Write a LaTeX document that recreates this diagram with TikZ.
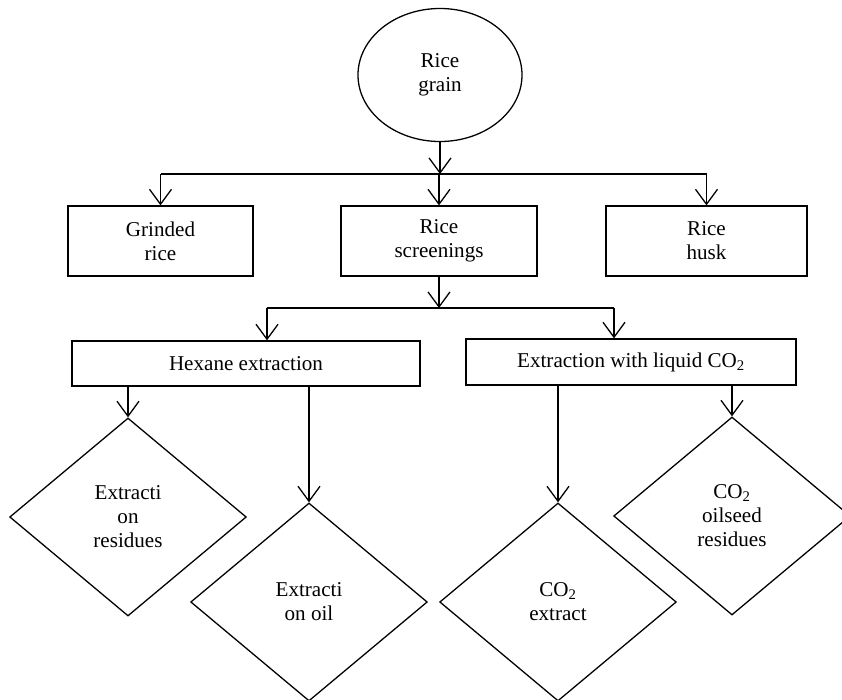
\documentclass[tikz,border=0pt]{standalone}
\usepackage{fontspec}
\setmainfont{Liberation Serif}
\usetikzlibrary{shapes.geometric}
\usetikzlibrary{arrows.meta}

\begin{document}
\begin{tikzpicture}[x=.03cm,y=-.03cm,line width=1.1pt,
  every node/.style={font=\fontsize{18}{20.5}\selectfont,align=center},
  box/.style={draw,rectangle,inner sep=0pt},
  dia/.style={draw,diamond,inner sep=0pt,minimum width=7.1cm,minimum height=5.94cm},
  arr/.style={-{Straight Barb[length=.45cm,width=.66cm]}}]
\useasboundingbox (0,0) rectangle (842,699);
% top
\node[draw,ellipse,minimum width=4.92cm,minimum height=3.99cm] (grain) at (440,75) {Rice\\grain};
\node[box,minimum width=5.55cm,minimum height=2.1cm] (grinded) at (160.5,241) {Grinded\\rice};
\node[box,minimum width=5.88cm,minimum height=2.1cm] (screen) at (439,241) {Rice\\screenings};
\node[box,minimum width=6.03cm,minimum height=2.1cm] (husk) at (706.5,241) {Rice\\husk};
% extraction
\node[box,minimum width=10.44cm,minimum height=1.35cm] (hexane) at (246,363.5) {Hexane extraction};
\node[box,minimum width=9.9cm,minimum height=1.38cm] (co2) at (631,362) {Extraction with liquid CO\textsubscript{2}};
% products
\node[dia] (res) at (128,517) {Extracti\\on\\residues};
\node[dia] (oil) at (309,602) {Extracti\\on oil};
\node[dia] (ext) at (558,602) {CO\textsubscript{2}\\extract};
\node[dia] (seed) at (732,516) {CO\textsubscript{2}\\oilseed\\residues};
% connectors
\coordinate (j1) at (439,174);
\draw[arr] (grain.south) -- (grain.south |- j1);
\draw (grinded.north |- j1) -- (husk.north |- j1);
\foreach \n in {grinded,screen,husk}
  \draw[arr] (\n.north |- j1) -- (\n.north);
\coordinate (j2) at (439,308);
\coordinate (hx) at (267,308);
\coordinate (cx) at (614,308);
\draw[arr] (screen.south) -- (screen.south |- j2);
\draw (hx) -- (cx);
\draw[arr] (hx) -- (hx |- hexane.north);
\draw[arr] (cx) -- (cx |- co2.north);
\foreach \n in {res,oil}
  \draw[arr] (\n.north |- hexane.south) -- (\n.north);
\foreach \n in {ext,seed}
  \draw[arr] (\n.north |- co2.south) -- (\n.north);
\end{tikzpicture}
\end{document}
